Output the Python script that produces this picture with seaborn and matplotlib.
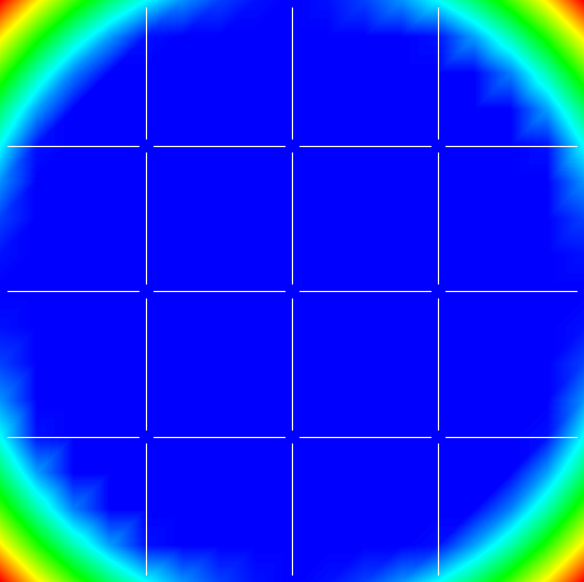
"""
Clipped radial field on a square grid, jet-like colour ramp
"""
import numpy as np
import matplotlib
matplotlib.use("Agg")
import matplotlib.pyplot as plt
import matplotlib.tri as mtri
import seaborn as sns

sns.set_style("white")

# grid nodes (x and y share the same spacing)
grid_x = [-2, -1.75, -1.5, -1.25, -1, -0.75, -0.5, -0.25, 0,
          0.25, 0.5, 0.75, 1, 1.25, 1.5, 1.75, 2]
grid_y = [-2, -1.75, -1.5, -1.25, -1, -0.75, -0.5, -0.25, 0,
          0.25, 0.5, 0.75, 1, 1.25, 1.5, 1.75, 2]

# field value at each node, rows go bottom -> top
z_rows = [
    [4, 3.0625, 2.25, 1.5625, 1, 0.5625, 0.25, 0.0625, 0, 0.0625, 0.25, 0.5625, 1, 1.5625, 2.25, 3.0625, 4],
    [3.0625, 2.125, 1.3125, 0.625, 0.0625, 0, 0, 0, 0, 0, 0, 0, 0.0625, 0.625, 1.3125, 2.125, 3.0625],
    [2.25, 1.3125, 0.5, 0, 0, 0, 0, 0, 0, 0, 0, 0, 0, 0, 0.5, 1.3125, 2.25],
    [1.5625, 0.625, 0, 0, 0, 0, 0, 0, 0, 0, 0, 0, 0, 0, 0, 0.625, 1.5625],
    [1, 0.0625, 0, 0, 0, 0, 0, 0, 0, 0, 0, 0, 0, 0, 0, 0.0625, 1],
    [0.5625, 0, 0, 0, 0, 0, 0, 0, 0, 0, 0, 0, 0, 0, 0, 0, 0.5625],
    [0.25, 0, 0, 0, 0, 0, 0, 0, 0, 0, 0, 0, 0, 0, 0, 0, 0.25],
    [0.0625, 0, 0, 0, 0, 0, 0, 0, 0, 0, 0, 0, 0, 0, 0, 0, 0.0625],
    [0, 0, 0, 0, 0, 0, 0, 0, 0, 0, 0, 0, 0, 0, 0, 0, 0],
    [0.0625, 0, 0, 0, 0, 0, 0, 0, 0, 0, 0, 0, 0, 0, 0, 0, 0.0625],
    [0.25, 0, 0, 0, 0, 0, 0, 0, 0, 0, 0, 0, 0, 0, 0, 0, 0.25],
    [0.5625, 0, 0, 0, 0, 0, 0, 0, 0, 0, 0, 0, 0, 0, 0, 0, 0.5625],
    [1, 0.0625, 0, 0, 0, 0, 0, 0, 0, 0, 0, 0, 0, 0, 0, 0.0625, 1],
    [1.5625, 0.625, 0, 0, 0, 0, 0, 0, 0, 0, 0, 0, 0, 0, 0, 0.625, 1.5625],
    [2.25, 1.3125, 0.5, 0, 0, 0, 0, 0, 0, 0, 0, 0, 0, 0, 0.5, 1.3125, 2.25],
    [3.0625, 2.125, 1.3125, 0.625, 0.0625, 0, 0, 0, 0, 0, 0, 0, 0.0625, 0.625, 1.3125, 2.125, 3.0625],
    [4, 3.0625, 2.25, 1.5625, 1, 0.5625, 0.25, 0.0625, 0, 0.0625, 0.25, 0.5625, 1, 1.5625, 2.25, 3.0625, 4],
]

color_stops = ["#0000ff", "#00ffff", "#00ff00", "#ffff00", "#ff0000"]
z_min, z_max = 0, 4
grid_ticks = [-2, -1, 0, 1, 2]

cmap = sns.blend_palette(color_stops, n_colors=256, as_cmap=True)

# triangulate the regular grid, each cell split along its rising diagonal
xx, yy = np.meshgrid(grid_x, grid_y)
z = np.array(z_rows, dtype=float)
n = len(grid_x)
tris = []
for j in range(len(grid_y) - 1):
    for i in range(n - 1):
        k = j * n + i
        tris.append([k, k + 1, k + n + 1])
        tris.append([k, k + n + 1, k + n])
triang = mtri.Triangulation(xx.ravel(), yy.ravel(), tris)

fig = plt.figure(figsize=(5.84, 5.82), dpi=100)
ax = fig.add_axes([0, 0, 1, 1])
ax.set_facecolor("#0000ff")

ax.tricontourf(triang, z.ravel(), levels=np.linspace(z_min, z_max, 257),
               cmap=cmap, vmin=z_min, vmax=z_max, antialiased=False)

# white grid lines, broken around each crossing
pad = 0.048
for g in grid_ticks[1:-1]:
    for lo, hi in zip(grid_ticks[:-1], grid_ticks[1:]):
        ax.plot([g, g], [lo + pad, hi - pad], color="white", lw=0.9,
                solid_capstyle="butt")
        ax.plot([lo + pad, hi - pad], [g, g], color="white", lw=0.9,
                solid_capstyle="butt")

ax.set_xlim(grid_ticks[0], grid_ticks[-1])
ax.set_ylim(grid_ticks[0], grid_ticks[-1])
ax.set_xticks([])
ax.set_yticks([])
for spine in ax.spines.values():
    spine.set_visible(False)

fig.savefig("out.png", dpi=100)
